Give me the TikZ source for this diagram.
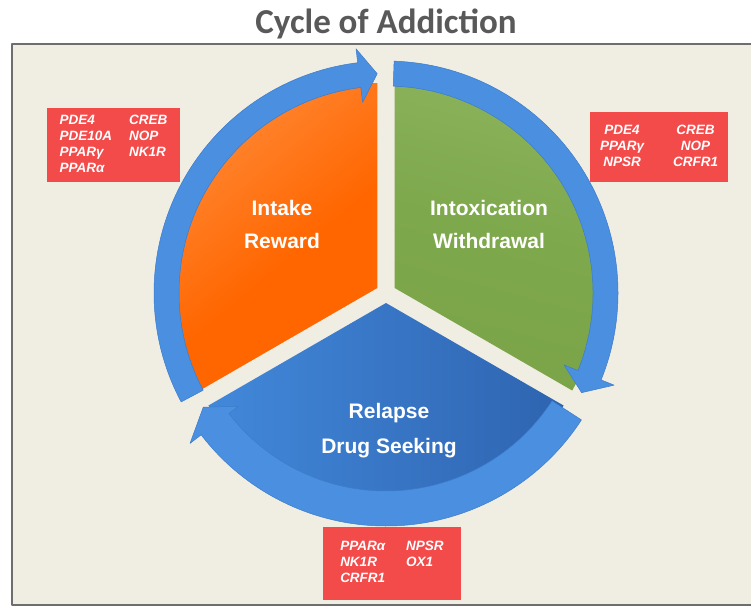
\documentclass[tikz,border=0pt]{standalone}
\usepackage{fontspec}
\setmainfont{Liberation Sans}
\newfontfamily\titlefont{Carlito}

\definecolor{panel}{RGB}{240,237,227}
\definecolor{framegray}{RGB}{110,110,110}
\definecolor{titlegray}{RGB}{89,89,89}
\definecolor{genered}{RGB}{243,74,74}
\definecolor{ringblue}{RGB}{74,143,224}
\definecolor{ringedge}{RGB}{60,124,204}
\definecolor{peach}{RGB}{249,196,150}
\definecolor{orangeA}{RGB}{255,128,40}
\definecolor{orangeB}{RGB}{255,102,0}
\definecolor{greenA}{RGB}{150,189,106}
\definecolor{greenB}{RGB}{126,168,76}
\definecolor{greenC}{RGB}{118,160,66}
\definecolor{blueA}{RGB}{66,136,218}
\definecolor{blueB}{RGB}{46,100,176}

% soft light rim on the pie pieces
\pgfdeclareverticalshading{orangeglow}{100bp}{color(0bp)=(orangeB); color(45bp)=(orangeB);
  color(68bp)=(orangeA); color(100bp)=(peach)}
\pgfdeclareverticalshading{greenglow}{100bp}{color(0bp)=(greenC); color(50bp)=(greenB);
  color(100bp)=(greenA)}

\tikzset{
  genebox/.style={fill=genered, text=white, inner sep=0pt,
    font=\fontsize{13.5}{16}\selectfont\bfseries\itshape},
  phase/.style={text=white, align=center,
    font=\fontsize{21}{33}\selectfont\bfseries},
  ringpart/.style={fill=ringblue, draw=ringedge, line width=0.5pt},
}

% curved arrow of the ring: tail, head back, tip, inner r, outer r, barb in, barb out
\newcommand{\ringarrow}[7]{%
  \filldraw[ringpart] (#1:#5) arc[start angle=#1, end angle=#2, radius=#5pt]
    -- (#2:#7) -- (#3:{(#4+#5)/2}) -- (#2:#6) -- (#2:#4)
    arc[start angle=#2, end angle=#1, radius=#4pt] -- cycle;}

\begin{document}
\begin{tikzpicture}[x=1pt, y=1pt, line join=round]
\clip (0,0) rectangle (751,608);
\fill[white] (0,0) rectangle (751,608);
\draw[line width=1.5pt, draw=framegray, fill=panel] (12,3) rectangle (770,564);

\node[text=titlegray, font=\titlefont\bfseries\fontsize{35}{40}\selectfont] (title) at (386,584) {Cycle of Addiction};

\begin{scope}[shift={(386,315)}]
  % the three pie pieces
  \shade[shading=orangeglow, shading angle=40]
    (150:10) -- ++(90:205) arc[start angle=90, end angle=210, radius=205pt] -- cycle;
  \shade[shading=greenglow, shading angle=-15]
    (30:10) -- ++(-30:205) arc[start angle=-30, end angle=90, radius=205pt] -- cycle;
  \shade[left color=blueA, right color=blueB]
    (270:10) -- ++(210:205) arc[start angle=210, end angle=330, radius=205pt] -- cycle;
  % ring arrows
  \ringarrow{208}{97}{92.3}{207}{232}{192}{246}
  \ringarrow{88}{-22}{-27}{207}{232}{192}{246}
  \ringarrow{-33}{-142.5}{-148}{198}{233}{186}{247}
\end{scope}

\node[phase] (intake) at (282,384) {Intake\\Reward};
\node[phase] (intox) at (489,384) {Intoxication\\Withdrawal};
\node[phase, font=\fontsize{21}{35}\selectfont\bfseries] (relapse) at (389,177) {Relapse\\Drug Seeking};

\node[genebox, minimum width=133pt, minimum height=74pt] (genesA) at (113.5,463) {%
  \begin{tabular}{@{}l@{\hspace{17pt}}l@{}}
  PDE4 & CREB\\ PDE10A & NOP\\ PPARγ & NK1R\\ PPARα &
  \end{tabular}};
\node[genebox, minimum width=138pt, minimum height=70pt] (genesB) at (659,461) {%
  \begin{tabular}{@{}c@{\hspace{29pt}}c@{}}
  PDE4 & CREB\\ PPARγ & NOP\\ NPSR & CRFR1
  \end{tabular}};
\node[genebox, minimum width=138pt, minimum height=73pt] (genesC) at (392,44.5) {%
  \begin{tabular}{@{}l@{\hspace{21pt}}l@{}}
  PPARα & NPSR\\ NK1R & OX1\\ CRFR1 &
  \end{tabular}};
\end{tikzpicture}
\end{document}
